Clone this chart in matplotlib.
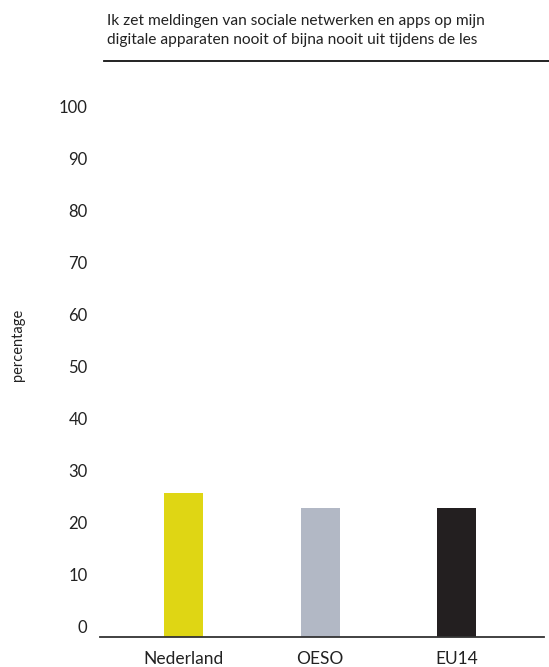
import matplotlib
matplotlib.use("Agg")
import matplotlib.pyplot as plt
from matplotlib.lines import Line2D

categories = ["Nederland", "OESO", "EU14"]
values = [27.6, 24.7, 24.7]
colors = ["#dfd614", "#b2b8c5", "#231f20"]
yticks = [0, 10, 20, 30, 40, 50, 60, 70, 80, 90, 100]
title = "Ik zet meldingen van sociale netwerken en apps op mijn\ndigitale apparaten nooit of bijna nooit uit tijdens de les"
ylabel = "percentage"

plt.rcParams['font.family'] = ['Lato', 'DejaVu Sans']

W, H = 549, 667
fig = plt.figure(figsize=(W / 100, H / 100), dpi=100)
ax = fig.add_axes([100 / W, (H - 636.7) / H, 444 / W, 520 / H])

x = list(range(len(categories)))
ax.bar(x, values, width=0.286, color=colors, zorder=2)
ax.set_xlim(-0.612, 2.64)
ax.set_ylim(0, 100)

for s in ["top", "right", "left"]:
    ax.spines[s].set_visible(False)
ax.spines["bottom"].set_color("#333333")
ax.spines["bottom"].set_linewidth(1.3)
ax.spines["bottom"].set_zorder(3)

ax.set_xticks(x)
ax.set_xticklabels(categories, fontsize=12.5, color="#222222")
ax.tick_params(axis="x", length=0, pad=10.5)

ax.set_yticks(yticks)
ax.set_yticklabels([])
ax.tick_params(axis="y", length=0)
for t in yticks:
    ax.text(-0.028, t + 0.15, str(t), transform=ax.get_yaxis_transform(),
            ha="right", va="bottom", fontsize=12, color="#222222")

fig.text(18 / W, (H - 345) / H, ylabel, rotation=90, ha="center", va="center",
         fontsize=10.5, color="#222222")

fig.text(107 / W, (H - 14) / H, title, ha="left", va="top", fontsize=11.2,
         color="#222222", linespacing=1.45)

fig.add_artist(Line2D([104 / W, 1.0], [(H - 60.7) / H] * 2, color="#111111",
                      linewidth=1.3, transform=fig.transFigure))

fig.savefig("out.png", dpi=100)
